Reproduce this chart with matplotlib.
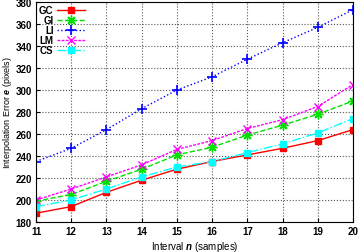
import matplotlib
matplotlib.use("Agg")
import matplotlib.pyplot as plt

n = [11, 12, 13, 14, 15, 16, 17, 18, 19, 20]
gc = [188, 194, 207, 218, 228, 235, 241, 247, 254, 264]
gi = [199, 205, 217, 228, 241, 248, 259, 268, 278, 290]
li = [235, 247, 264, 283, 300, 312, 328, 343, 357, 373]
lm = [200, 210, 221, 232, 246, 254, 265, 273, 285, 305]
cs = [194, 200, 210, 221, 230, 235, 243, 251, 261, 274]

plt.rcParams['font.family'] = ['Liberation Sans', 'DejaVu Sans']
plt.rcParams['font.weight'] = 'bold'
plt.rcParams['mathtext.fontset'] = 'custom'
plt.rcParams['mathtext.it'] = 'Liberation Sans:italic:bold'

fig = plt.figure(figsize=(3.58, 2.53), dpi=100)
ax = fig.add_axes([36/358, 30/253, 317/358, 220/253])

ax.plot(n, gc, '-', color='red', marker='s', ms=5, lw=1, label='GC')
ax.plot(n, gi, '--', color='#00e000', marker=(8, 2, 0), ms=7, lw=1, label='GI')
ax.plot(n, li, ':', color='blue', marker='+', ms=7, mew=1.2, lw=1, label='LI')
ax.plot(n, lm, '--', color='magenta', marker='x', ms=6, lw=1, dashes=(2, 1), label='LM')
ax.plot(n, cs, '-.', color='cyan', marker='s', ms=5, lw=1, label='CS')

ax.set_xlim(11, 20)
ax.set_ylim(180, 380)
ax.set_xticks(n)
ax.set_yticks(range(180, 381, 20))
ax.tick_params(labelsize=7, direction='in', length=3, pad=3)
ax.grid(True, color='#555555', ls=':', lw=0.8)

ax.set_xlabel('Interval $n$ (samples)', fontsize=7, labelpad=2)
ax.set_ylabel('Interpolation Error $e$ (pixels)', fontsize=6.5, labelpad=1)

leg = ax.legend(loc='upper left', markerfirst=False, frameon=False, fontsize=7,
                handlelength=2.8, labelspacing=0.0, borderaxespad=0.2, handletextpad=0.4,
                borderpad=0.1)
# right-align the labels like gnuplot does
for col in leg._legend_handle_box.get_children():
    col.align = 'right'

fig.savefig('out.png', dpi=100)
